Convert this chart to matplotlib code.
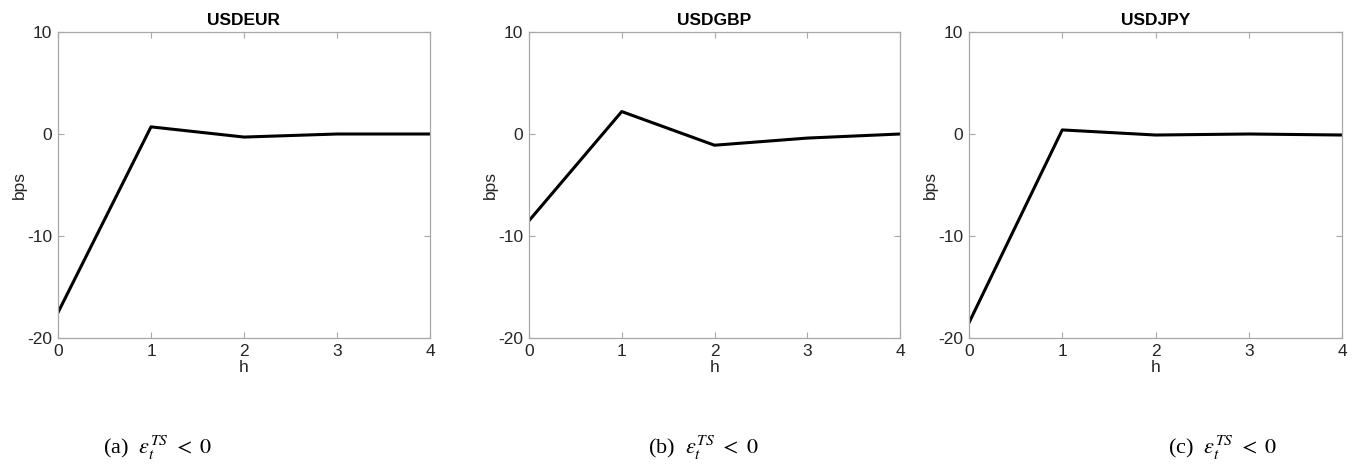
import matplotlib
matplotlib.use("Agg")
import matplotlib.pyplot as plt

plt.rcParams["font.family"] = ["Liberation Sans", "DejaVu Sans"]
plt.rcParams["mathtext.fontset"] = "stix"
plt.rcParams["axes.unicode_minus"] = False

# horizon and impulse responses (bps)
h = [0, 1, 2, 3, 4]
usdeur = [-17.5, 0.7, -0.3, 0.0, 0.0]
usdgbp = [-8.5, 2.2, -1.1, -0.4, 0.0]
usdjpy = [-18.5, 0.4, -0.1, 0.0, -0.1]

titles = ["USDEUR", "USDGBP", "USDJPY"]
series = [usdeur, usdgbp, usdjpy]
captions = ["(a)", "(b)", "(c)"]

W, H = 1354, 466
fig = plt.figure(figsize=(W / 100, H / 100), dpi=100)

# axes pixel boxes: left, right
boxes = [(58, 430), (529, 900), (969, 1342)]
top, bottom = 32, 338
cap_x = [158, 703, 1223]

SPINE = "#a8a8a8"
TXT = "#262626"

for (l, r), title, y, cap, cx in zip(boxes, titles, series, captions, cap_x):
    ax = fig.add_axes([l / W, 1 - bottom / H, (r - l) / W, (bottom - top) / H])
    ax.plot(h, y, color="black", lw=2.2)
    ax.set_xlim(0, 4)
    ax.set_ylim(-20, 10)
    ax.set_xticks(h)
    ax.set_yticks([-20, -10, 0, 10])
    ax.tick_params(direction="in", top=True, right=True, length=4,
                   color=SPINE, labelcolor=TXT, labelsize=12.5, pad=4)
    for s in ax.spines.values():
        s.set_color(SPINE)
        s.set_linewidth(0.9)
    ax.set_title(title, fontweight="bold", fontsize=12.5, color="black", pad=5)
    ax.set_xlabel("h", fontsize=12.5, color=TXT, labelpad=1)
    ax.set_ylabel("bps", fontsize=12.5, color=TXT, labelpad=0)
    fig.text(cx / W, 1 - 448 / H, cap + r"  $\varepsilon_t^{TS}\ <\ 0$",
             family="Liberation Serif", fontsize=16, ha="center", va="center")

fig.savefig("out.png", dpi=100)
